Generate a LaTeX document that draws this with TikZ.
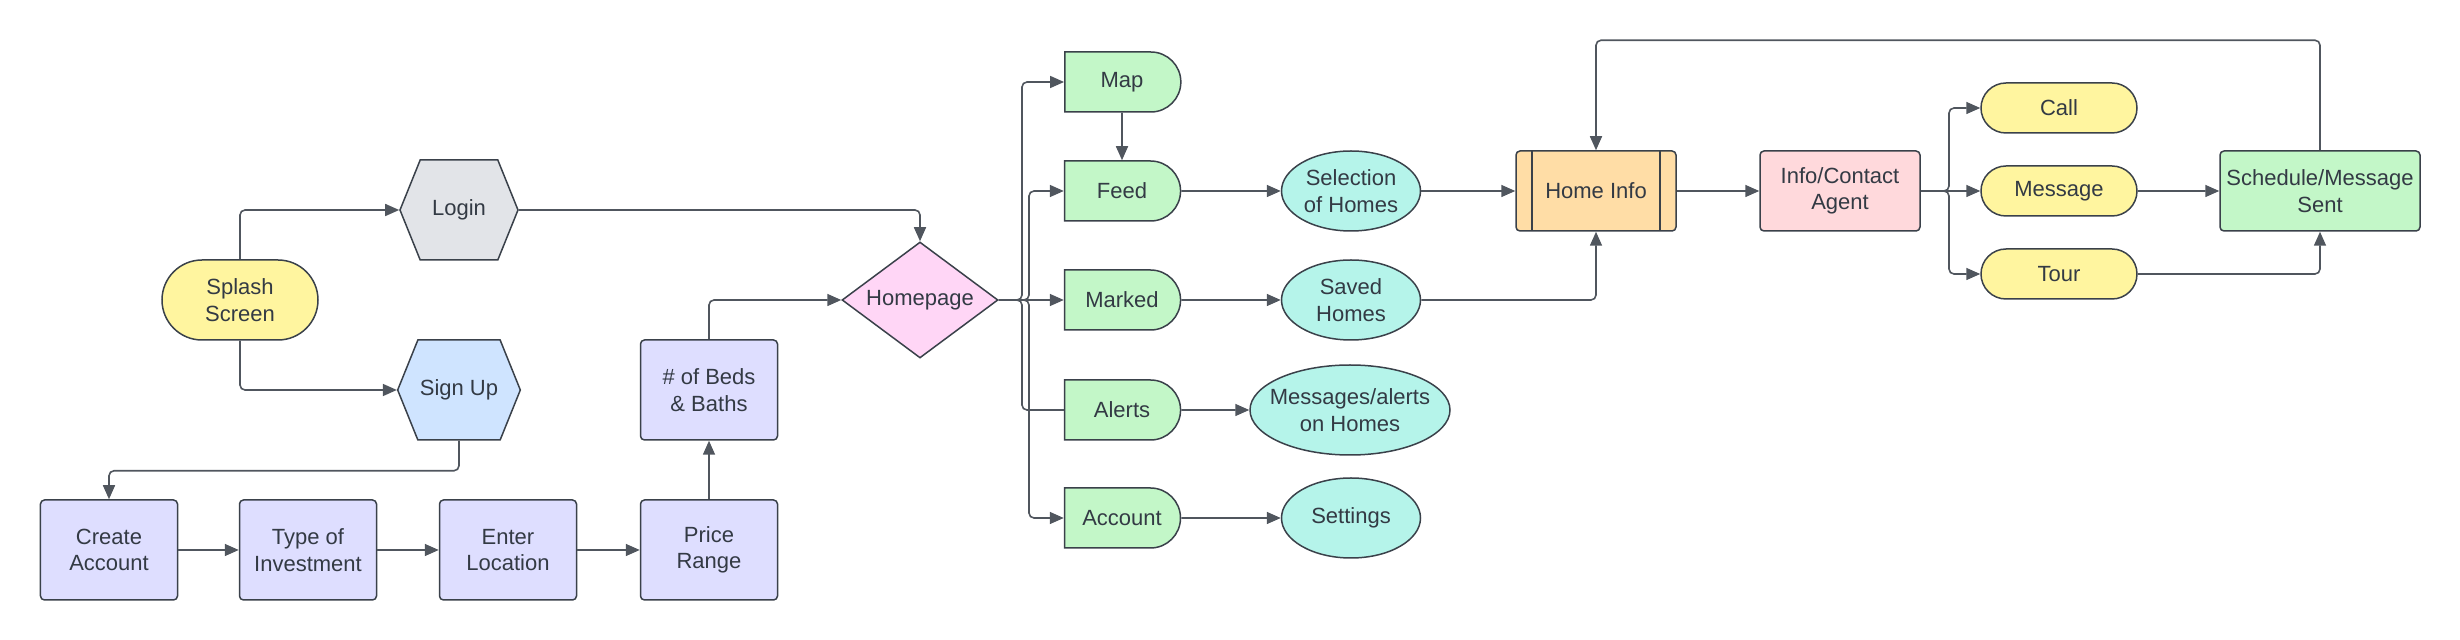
\documentclass[tikz,border=0pt]{standalone}
\usepackage{fontspec}
\setmainfont{Liberation Sans}
\usepackage{tikz}
\usetikzlibrary{arrows.meta, shapes.geometric, shapes.misc, shapes.symbols}

\definecolor{ink}{HTML}{333A44}
\definecolor{edge}{HTML}{3A414A}
\definecolor{wirec}{HTML}{50565E}
\definecolor{yellowbg}{HTML}{FFF59F}
\definecolor{greybg}{HTML}{E2E4E8}
\definecolor{bluebg}{HTML}{CFE4FF}
\definecolor{lavender}{HTML}{DEDEFF}
\definecolor{pinkbg}{HTML}{FFD6F6}
\definecolor{greenbg}{HTML}{C3F7C8}
\definecolor{cyanbg}{HTML}{B5F4EA}
\definecolor{orangebg}{HTML}{FFDDA6}
\definecolor{rosebg}{HTML}{FFD9DC}

\tikzset{
  box/.style={draw=edge, line width=0.75pt, text=ink, align=center, inner sep=1pt,
    font=\fontsize{11}{13.3}\selectfont},
  pill/.style={box, rounded rectangle, fill=yellowbg, minimum width=80pt, minimum height=40pt},
  hexa/.style={box, signal, signal to=west and east, signal pointer angle=136,
    minimum width=59pt, minimum height=50pt},
  stepbox/.style={box, rectangle, rounded corners=2pt, fill=lavender,
    minimum width=68.5pt, minimum height=50pt},
  decision/.style={box, diamond, aspect=1.35, fill=pinkbg, inner sep=0pt,
    minimum width=78pt, minimum height=58pt},
  tabbox/.style={box, rounded rectangle, rounded rectangle west arc=none, fill=greenbg,
    minimum width=60pt, minimum height=30pt},
  bubble/.style={box, ellipse, fill=cyanbg, inner sep=0pt,
    minimum width=69.5pt, minimum height=40pt},
  card/.style={box, rectangle, rounded corners=2pt, minimum width=80pt, minimum height=40pt},
  subproc/.style={card, fill=orangebg,
    path picture={
      \draw[edge, line width=0.6pt] ([xshift=8pt]path picture bounding box.north west)
        -- ([xshift=8pt]path picture bounding box.south west);
      \draw[edge, line width=0.6pt] ([xshift=-8pt]path picture bounding box.north east)
        -- ([xshift=-8pt]path picture bounding box.south east);}},
  choice/.style={box, rounded rectangle, fill=yellowbg, minimum width=80pt, minimum height=25pt},
  wire/.style={draw=wirec, line width=0.8pt, rounded corners=2.5pt},
  flow/.style={wire, ->},
}

\begin{document}
\begin{tikzpicture}[x=50pt, y=50pt, >={Triangle[length=7pt,width=6pt]}]
	\useasboundingbox (0,0) rectangle (24.6,-6.4);

	%left part
	\node[pill]					(splash)	at (2.40, -3.00)	{Splash\\Screen};
	\node[hexa, fill=greybg]	(login)		at (4.59, -2.10)	{Login};
	\node[hexa, fill=bluebg]	(signup)	at (4.59, -3.90)	{Sign Up};
	\node[stepbox]	(create)	at (1.09, -5.50)	{Create\\Account};
	\node[stepbox]	(type)		at (3.08, -5.50)	{Type of\\Investment};
	\node[stepbox]	(enter)		at (5.08, -5.50)	{Enter\\Location};
	\node[stepbox]	(price)		at (7.09, -5.50)	{Price\\Range};
	\node[stepbox]	(beds)		at (7.09, -3.90)	{\# of Beds\\\& Baths};
	\node[decision]	(home)		at (9.20, -3.00)	{Homepage};

	\draw[flow] (splash.north) |- (login.west);
	\draw[flow] (splash.south) |- (signup.west);
	\draw[flow] (signup.south) -- ++(0, -0.30) -| (create.north);
	\draw[flow] (create) -- (type);
	\draw[flow] (type) -- (enter);
	\draw[flow] (enter) -- (price);
	\draw[flow] (price) -- (beds);
	\draw[flow] (beds.north) |- (home.west);
	\draw[flow] (login.east) -| (home.north);

	%menu
	\node[tabbox]	(map)		at (11.22, -0.82)	{Map};
	\node[tabbox]	(feed)		at (11.22, -1.91)	{Feed};
	\node[tabbox]	(marked)	at (11.22, -3.00)	{Marked};
	\node[tabbox]	(alerts)	at (11.22, -4.10)	{Alerts};
	\node[tabbox]	(account)	at (11.22, -5.18)	{Account};

	\node[bubble]	(select)	at (13.51, -1.91)	{Selection\\of Homes};
	\node[bubble]	(saved)		at (13.51, -3.00)	{Saved\\Homes};
	\node[bubble, minimum width=100pt, minimum height=45pt, inner xsep=-8pt]
					(messages)	at (13.50, -4.10)	{Messages/alerts\\on Homes};
	\node[bubble]	(settings)	at (13.51, -5.18)	{Settings};

	\coordinate (busa) at (10.22, -3.00);
	\coordinate (busb) at (10.29, -3.00);
	\draw[flow] (home.east) -- (marked.west);
	\draw[flow] (home.east) -- (busa) |- (map.west);
	\draw[wire] (home.east) -- (busa) |- (alerts.west);
	\draw[flow] (home.east) -- (busb) |- (feed.west);
	\draw[flow] (home.east) -- (busb) |- (account.west);
	\draw[flow] (map) -- (feed);
	\draw[flow] (feed) -- (select);
	\draw[flow] (marked) -- (saved);
	\draw[flow] (alerts) -- (messages);
	\draw[flow] (account) -- (settings);

	%right part
	\node[subproc]				(info)		at (15.96, -1.91)	{Home Info};
	\node[card, fill=rosebg]	(agent)		at (18.40, -1.91)	{Info/Contact\\Agent};
	\node[choice]	(call)		at (20.59, -1.08)	{Call};
	\node[choice]	(message)	at (20.59, -1.91)	{Message};
	\node[choice]	(tour)		at (20.59, -2.74)	{Tour};
	\node[card, fill=greenbg, minimum width=100pt]
					(sched)		at (23.20, -1.91)	{Schedule/Message\\Sent};

	\draw[flow] (select) -- (info);
	\draw[flow] (saved.east) -| (info.south);
	\draw[flow] (info) -- (agent);
	\coordinate (busc) at (19.49, -1.91);
	\draw[flow] (agent.east) -- (busc) |- (call.west);
	\draw[flow] (agent.east) -- (message.west);
	\draw[flow] (agent.east) -- (busc) |- (tour.west);
	\draw[flow] (message) -- (sched);
	\draw[flow] (tour.east) -| (sched.south);
	\draw[flow] (sched.north) -- ++(0, 1.10) -| (info.north);

\end{tikzpicture}
\end{document}
